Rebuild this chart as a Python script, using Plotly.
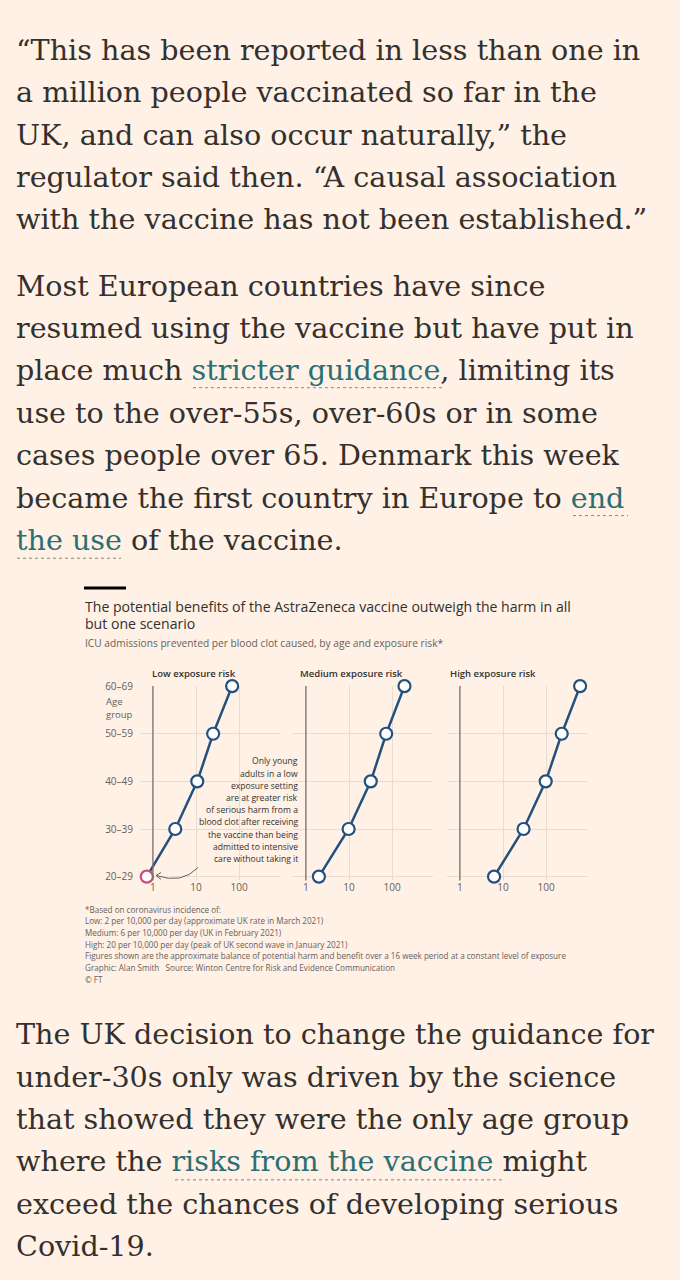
import plotly.graph_objects as go
from plotly.subplots import make_subplots

# chart data (log scale, ICU admissions prevented per clot)
age_groups = ["20–29", "30–39", "40–49", "50–59", "60–69"]
low_risk = [0.72, 3.3, 10.7, 25, 69]
medium_risk = [2.0, 9.8, 32, 73, 194]
high_risk = [6.2, 30, 98, 231, 617]
panel_titles = ["Low exposure risk", "Medium exposure risk", "High exposure risk"]
x_ticks = [1, 10, 100]

para1 = [
    "“This has been reported in less than one in",
    "a million people vaccinated so far in the",
    "UK, and can also occur naturally,” the",
    "regulator said then. “A causal association",
    "with the vaccine has not been established.”",
]
para2 = [
    "Most European countries have since",
    "resumed using the vaccine but have put in",
    "place much <span style='color:#2b6f74'>stricter guidance</span>, limiting its",
    "use to the over-55s, over-60s or in some",
    "cases people over 65. Denmark this week",
    "became the first country in Europe to <span style='color:#2b6f74'>end</span>",
    "<span style='color:#2b6f74'>the use</span> of the vaccine.",
]
para3 = [
    "The UK decision to change the guidance for",
    "under-30s only was driven by the science",
    "that showed they were the only age group",
    "where the <span style='color:#2b6f74'>risks from the vaccine</span> might",
    "exceed the chances of developing serious",
    "Covid-19.",
]
note_lines = [
    "Only young", "adults in a low", "exposure setting", "are at greater risk",
    "of serious harm from a", "blood clot after receiving", "the vaccine than being",
    "admitted to intensive", "care without taking it",
]
footnotes = [
    "*Based on coronavirus incidence of:",
    "Low: 2 per 10,000 per day (approximate UK rate in March 2021)",
    "Medium: 6 per 10,000 per day (UK in February 2021)",
    "High: 20 per 10,000 per day (peak of UK second wave in January 2021)",
    "Figures shown are the approximate balance of potential harm and benefit over a 16 week period at a constant level of exposure",
    "Graphic: Alan Smith   Source: Winton Centre for Risk and Evidence Communication",
    "© FT",
]

W, H = 680, 1280
BG = "#fff1e5"
TEXT = "#33302e"
GREY = "#66605c"
BLUE = "#22507f"
PINK = "#d6477f"
SERIF = "DejaVu Serif"
SANS = "Open Sans"
BODY = 28.6


def px(x):
    return x / W


def py(y):
    return 1 - y / H


fig = make_subplots(rows=1, cols=3, shared_yaxes=True)

series = [low_risk, medium_risk, high_risk]
for i, vals in enumerate(series):
    edge = [BLUE] * len(vals)
    if i == 0:
        edge[0] = PINK
    fig.add_trace(go.Scatter(
        x=vals, y=age_groups, mode="lines+markers",
        line=dict(color=BLUE, width=2.5),
        marker=dict(size=12, color="white", line=dict(color=edge, width=2.2)),
        cliponaxis=False, showlegend=False, hoverinfo="x+y",
    ), row=1, col=i + 1)

domains = [(140, 280), (293, 433), (447, 587)]
for i, (a, b) in enumerate(domains):
    xa = "xaxis" if i == 0 else f"xaxis{i + 1}"
    fig.layout[xa].update(
        domain=[px(a), px(b)], type="log", range=[-0.3, 2.95],
        tickvals=x_ticks, ticktext=[str(t) for t in x_ticks],
        showgrid=True, gridcolor="#e9dccf", gridwidth=1, zeroline=False,
        showline=False, ticks="", tickfont=dict(family=SANS, size=10, color=GREY),
    )
    ya = "yaxis" if i == 0 else f"yaxis{i + 1}"
    fig.layout[ya].update(
        domain=[py(880), py(684)], type="category",
        categoryorder="array", categoryarray=age_groups, range=[-0.08, 4],
        showgrid=True, gridcolor="#e9dccf", gridwidth=1, zeroline=False,
        showline=False, ticks="", showticklabels=(i == 0), ticklabelstandoff=6,
        tickfont=dict(family=SANS, size=10, color=GREY),
    )
    # dark baseline at x=1
    fig.add_shape(type="line", xref="x" if i == 0 else f"x{i + 1}",
                  yref="paper", x0=1, x1=1, y0=py(880), y1=py(684),
                  line=dict(color="#7a716b", width=1.3))

ann = []


def txt(x, y, s, size, color=TEXT, family=SANS, anchor="left"):
    ann.append(dict(x=px(x), y=py(y), xref="paper", yref="paper", text=s,
                    showarrow=False, xanchor=anchor, yanchor="middle",
                    font=dict(family=family, size=size, color=color)))


# article paragraphs
for k, line in enumerate(para1):
    txt(14, 42.5 + k * 42.6, line, BODY, family=SERIF)
for k, line in enumerate(para2):
    txt(14, 280 + k * 42.8, line, BODY, family=SERIF)
for k, line in enumerate(para3):
    txt(14, 1035 + k * 42.8, line, BODY, family=SERIF)

# dotted link underlines
links = [(193, 442, 383), (573, 628, 512), (17, 121, 555), (175, 502, 1182)]
shapes = []
for x0, x1, y in links:
    shapes.append(dict(type="line", xref="paper", yref="paper",
                       x0=px(x0), x1=px(x1), y0=py(y), y1=py(y),
                       line=dict(color="#8a837d", width=1, dash="dot")))

# chart header
shapes.append(dict(type="line", xref="paper", yref="paper",
                   x0=px(84), x1=px(126), y0=py(585), y1=py(585),
                   line=dict(color="#000000", width=3)))
txt(83, 604, "The potential benefits of the AstraZeneca vaccine outweigh the harm in all", 14.1)
txt(83, 621, "but one scenario", 14.1)
txt(83, 641, "ICU admissions prevented per blood clot caused, by age and exposure risk*", 10.2, GREY)

for t, x in zip(panel_titles, [150, 298, 448]):
    ann.append(dict(x=px(x), y=py(671), xref="paper", yref="paper", text=t,
                    showarrow=False, xanchor="left", yanchor="middle",
                    font=dict(family=SANS, size=9.5, color=TEXT, weight=600)))

txt(104, 700, "Age", 9.5, GREY)
txt(104, 713, "group", 9.5, GREY)

for k, line in enumerate(note_lines):
    txt(300, 760 + k * 12.3, line, 8.6, TEXT, anchor="right")

# curved pointer to the 20-29 low-risk point
shapes.append(dict(type="path", xref="paper", yref="paper",
                   path=f"M {px(198)},{py(867)} Q {px(182)},{py(884)} {px(156)},{py(875)}",
                   line=dict(color=GREY, width=1)))
shapes.append(dict(type="path", xref="paper", yref="paper",
                   path=f"M {px(161)},{py(872)} L {px(156)},{py(875)} L {px(161)},{py(879)}",
                   line=dict(color=GREY, width=1)))

for k, line in enumerate(footnotes):
    txt(83, 909 + k * 11.8, line, 8.1, GREY)

fig.update_layout(
    width=W, height=H, margin=dict(l=0, r=0, t=0, b=0),
    paper_bgcolor=BG, plot_bgcolor=BG,
    annotations=ann, shapes=list(fig.layout.shapes) + shapes,
)

fig.write_html(
    "out.html",
    config={"displayModeBar": False},
    post_script="document.body.style.margin='0';document.body.style.background='#fff1e5';",
)
